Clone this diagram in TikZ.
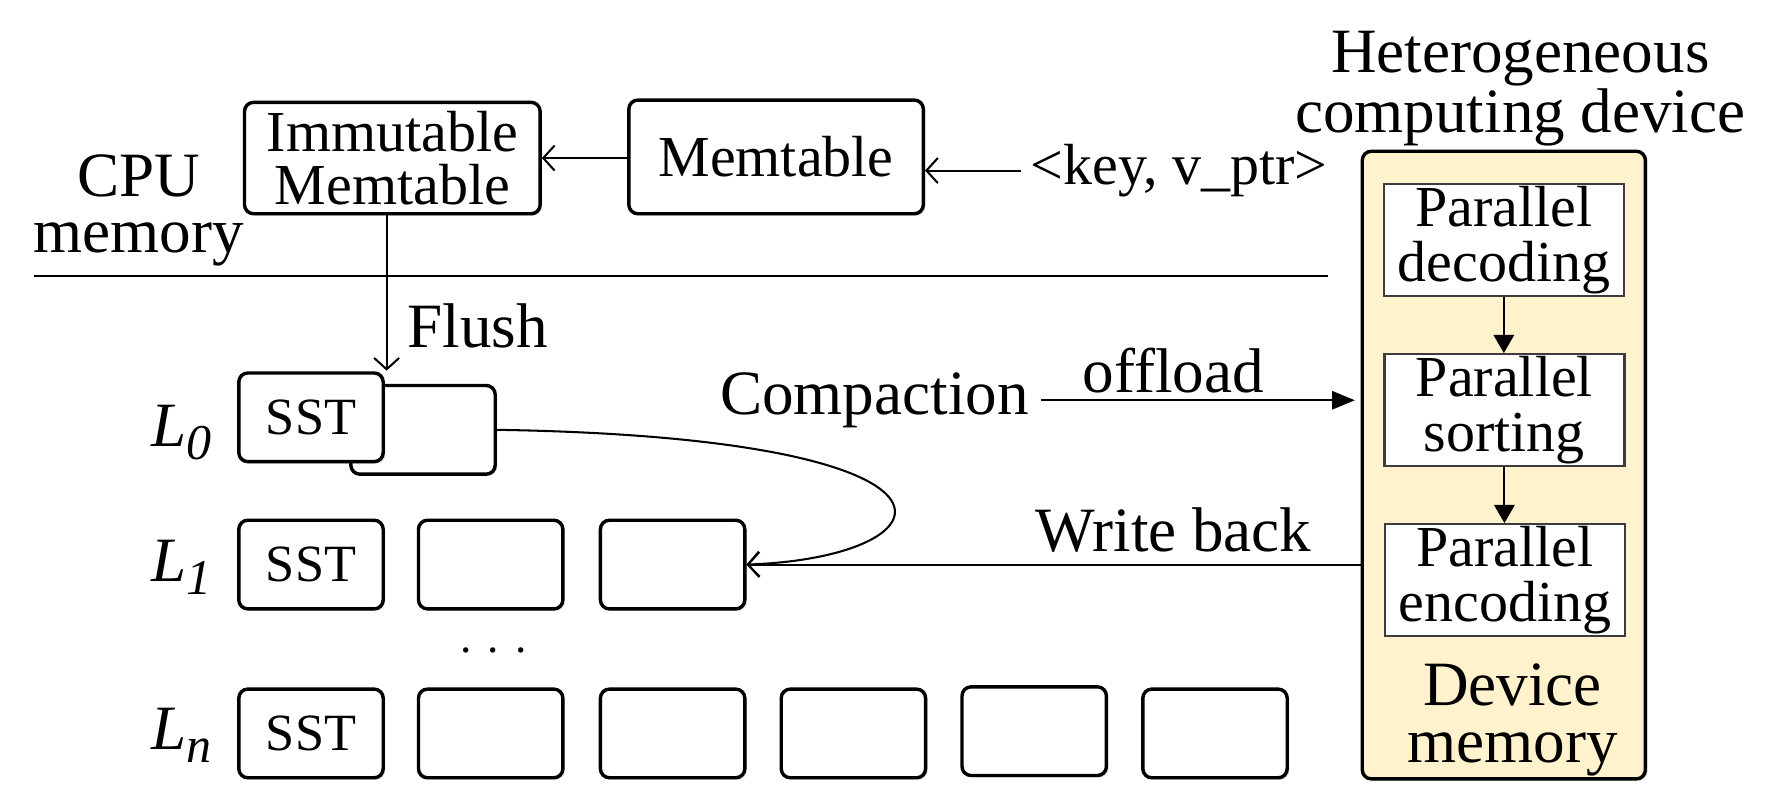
\documentclass[tikz,border=0pt]{standalone}
\usepackage{fontspec}
\setmainfont{Liberation Serif}
\usetikzlibrary{arrows.meta,shadows}
\definecolor{devfill}{RGB}{255,242,204}
\definecolor{innerline}{RGB}{60,60,60}
\begin{document}
\begin{tikzpicture}[x=0.5pt,y=-0.5pt,
  shad/.style={drop shadow={shadow xshift=0.9pt,shadow yshift=-0.9pt,opacity=0.25}},
  box/.style={draw,line width=1.5pt,rounded corners=4pt,fill=white,inner sep=0pt,shad},
  sst/.style={box,minimum width=63.5pt,minimum height=39pt,font=\fontsize{23}{23}\selectfont},
  mem/.style={box,align=center,font=\fontsize{25.5}{23}\selectfont},
  inner/.style={draw=innerline,line width=1pt,fill=white,inner sep=0pt,minimum width=105.5pt,minimum height=49pt,align=center,font=\fontsize{25.5}{24}\selectfont},
  lbl/.style={inner sep=0pt,align=center,font=\fontsize{27.75}{25}\selectfont},
  thinline/.style={line width=0.9pt},
  open/.style={thinline,-{Straight Barb[length=5pt,width=11pt,line width=0.9pt]}},
  filled/.style={thinline,-{Triangle[length=10pt,width=8pt]}}
]
\useasboundingbox (0,0) rectangle (1568,710);

% CPU memory part
\node[mem,minimum width=130pt,minimum height=49pt] (imm) at (345,139) {Immutable\\Memtable};
\node[mem,minimum width=129.5pt,minimum height=50pt] (mt) at (682.5,138) {Memtable};
\node[lbl,font=\fontsize{25.5}{24}\selectfont] (kv) at (1037,150) {<key, v\_ptr>};
\node[lbl] (cpu) at (122,185) {CPU\\memory};
\coordinate (hl) at (30,243);
\coordinate (hr) at (1168,243);
\draw[thinline] (hl) -- (hr);

\draw[open] (mt.west |- imm.east) -- (imm.east);
\draw[open] ([xshift=-4pt]kv.west) -- (mt.east |- kv.west);

% device
\node[lbl] (het) at (1337,78) {Heterogeneous\\computing device};
\node[draw,line width=1.5pt,rounded corners=4pt,fill=devfill,minimum width=124.5pt,minimum height=276pt,inner sep=0pt,shad] (dev) at (1322.5,409) {};
\node[inner] (dec) at (1322.5,211) {Parallel\\decoding};
\node[inner] (sort) at (1323,360.5) {Parallel\\sorting};
\node[inner] (enc) at (1323.5,510) {Parallel\\encoding};
\node[lbl] (dmem) at (1330,633) {Device\\memory};
\draw[thinline,-{Triangle[length=8pt,width=9pt]}] (dec.south) -- (dec.south |- sort.north);
\draw[thinline,-{Triangle[length=8pt,width=9pt]}] (sort.south) -- (sort.south |- enc.north);

% LSM levels
\node[sst] (l0b) at (372,378) {};
\node[sst] (l0a) at (273.5,367) {SST};
\node[sst] (l1a) at (273.5,496.5) {SST};
\node[sst] (l1b) at (431.5,496.5) {};
\node[sst] (l1c) at (591.5,496.5) {};
\node[sst] (lna) at (273.5,645) {SST};
\node[sst] (lnb) at (431.5,645) {};
\node[sst] (lnc) at (591.5,645) {};
\node[sst] (lnd) at (750.5,645) {};
\node[sst] (lne) at (909.5,643) {};
\node[sst] (lnf) at (1068.5,645) {};

\node[lbl] (L0) at (160,380) {\textit{L}\raisebox{-0.45ex}{\fontsize{22}{22}\selectfont\textit{0}}};
\node[lbl] (L1) at (160,499) {\textit{L}\raisebox{-0.45ex}{\fontsize{22}{22}\selectfont\textit{1}}};
\node[lbl] (Ln) at (160,647) {\textit{L}\raisebox{-0.45ex}{\fontsize{22}{22}\selectfont\textit{n}}};
\node[inner sep=0pt,font=\fontsize{20}{20}\selectfont] (dots) at (434,572) {.\hspace{7pt}.\hspace{7pt}.};

% flush
\draw[open] (imm.south -| 340,0) -- (340,326);
\node[lbl] (flush) at (420,287) {Flush};

% compaction
\node[lbl] (comp) at (769,352) {Compaction};
\node[lbl] (off) at (1032,326) {offload};
\draw[filled] ([xshift=5pt]comp.east |- 0,352) -- ([xshift=-2.5pt]dev.west |- 0,352);

% write back
\node[lbl] (wb) at (1032,466) {Write back};
\draw[open] (dev.west |- l1c.east) -- (l1c.east);
\draw[thinline,-{Straight Barb[length=5pt,width=11pt,line width=0.9pt]}] (l0b.east) .. controls (880,385) and (840,490) .. (l1c.east);
\end{tikzpicture}
\end{document}
